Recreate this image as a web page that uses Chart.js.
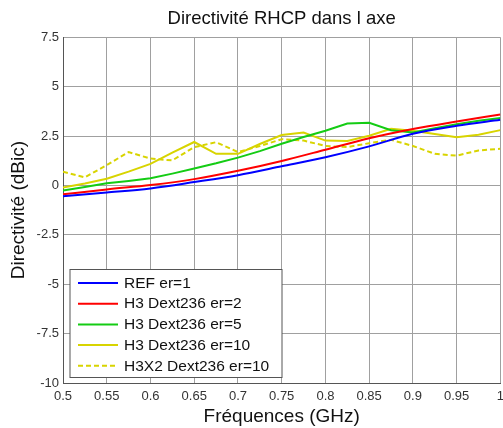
<!DOCTYPE html>
<html>
<head>
<meta charset="utf-8">
<script src="https://cdn.jsdelivr.net/npm/chart.js@4/dist/chart.umd.min.js"></script>
<style>
  html, body { margin: 0; padding: 0; background: #fff; overflow: hidden; }
  #wrap { width: 510px; height: 428px; }
</style>
</head>
<body>
<div id="wrap"><canvas id="graf" width="510" height="428"></canvas></div>
<script>
// Fréquences (GHz)
const freqGros = [0.5, 0.55, 0.6, 0.65, 0.7, 0.75, 0.8, 0.85, 0.9, 0.95, 1.0];
const freqFin = [0.5, 0.525, 0.55, 0.575, 0.6, 0.625, 0.65, 0.675, 0.7, 0.725, 0.75,
                 0.775, 0.8, 0.825, 0.85, 0.875, 0.9, 0.925, 0.95, 0.975, 1.0];

// Directivité (dBic)
const refEr1 = [-0.55, -0.36, -0.15, 0.17, 0.52, 0.97, 1.43, 1.98, 2.62, 3.02, 3.33];
const h3Er2 = [-0.45, -0.2, 0.02, 0.32, 0.74, 1.24, 1.81, 2.39, 2.86, 3.24, 3.59];
const h3Er5 = [-0.26, -0.08, 0.11, 0.23, 0.36, 0.6, 0.86, 1.12, 1.41, 1.74, 2.11,
               2.45, 2.77, 3.14, 3.17, 2.8, 2.68, 2.9, 3.1, 3.27, 3.41];
const h3Er10 = [-0.1, 0.1, 0.34, 0.7, 1.09, 1.66, 2.2, 1.6, 1.6, 2.1, 2.55,
                2.68, 2.27, 2.25, 2.52, 2.87, 2.77, 2.6, 2.44, 2.57, 2.8];
const h3x2Er10 = [0.69, 0.41, 1.03, 1.69, 1.36, 1.27, 1.94, 2.19, 1.69, 2.0, 2.34,
                  2.27, 2.0, 1.94, 2.14, 2.31, 2.0, 1.6, 1.51, 1.77, 1.86];

const yTicks = [-10, -7.5, -5, -2.5, 0, 2.5, 5, 7.5];

const police = "'Liberation Sans', Arial, sans-serif";

function points(xs, ys) {
    return xs.map((x, i) => ({ x: x, y: ys[i] }));
}

// Légende dessinée dans la zone du graphe
const legendeInterne = {
    id: 'legendeInterne',
    afterDraw(chart) {
        const c = chart.ctx;
        const a = chart.chartArea;
        const x0 = a.left + 7, y0 = a.bottom - 113.5;
        const w = 212, h = 108;
        c.save();
        c.fillStyle = '#fff';
        c.fillRect(x0, y0, w, h);
        c.strokeStyle = '#555';
        c.lineWidth = 1;
        c.strokeRect(x0, y0, w, h);
        c.font = '15.5px ' + police;
        c.textBaseline = 'middle';
        chart.data.datasets.forEach((ds, i) => {
            const y = y0 + 13.5 + i * 20.7;
            c.strokeStyle = ds.borderColor;
            c.lineWidth = 2;
            c.setLineDash(ds.borderDash || []);
            c.beginPath();
            c.moveTo(x0 + 8, y);
            c.lineTo(x0 + 48, y);
            c.stroke();
            c.setLineDash([]);
            c.fillStyle = '#111';
            c.fillText(ds.label, x0 + 54, y + 0.5);
        });
        c.restore();
    }
};

const ctx = document.getElementById('graf').getContext('2d');
const grafique = new Chart(ctx, {
    type: 'line',
    data: {
        datasets: [
            { label: 'REF er=1', data: points(freqGros, refEr1), borderColor: '#0000ff', cubicInterpolationMode: 'monotone' },
            { label: 'H3 Dext236 er=2', data: points(freqGros, h3Er2), borderColor: '#ff0000', cubicInterpolationMode: 'monotone' },
            { label: 'H3 Dext236 er=5', data: points(freqFin, h3Er5), borderColor: '#14cc14' },
            { label: 'H3 Dext236 er=10', data: points(freqFin, h3Er10), borderColor: '#d8d400' },
            { label: 'H3X2 Dext236 er=10', data: points(freqFin, h3x2Er10), borderColor: '#d8d400', borderDash: [5, 3] }
        ]
    },
    options: {
        responsive: false,
        animation: false,
        layout: { autoPadding: false, padding: { left: 0, right: 7, top: 0, bottom: 0 } },
        elements: {
            point: { radius: 0 },
            line: { borderWidth: 2, tension: 0, fill: false }
        },
        scales: {
            x: {
                type: 'linear',
                min: 0.5, max: 1,
                border: { color: '#555' },
                grid: { color: '#a0a0a0', tickLength: 0 },
                ticks: {
                    stepSize: 0.05,
                    color: '#333',
                    padding: 6,
                    font: { family: police, size: 13 },
                    maxRotation: 0,
                    callback: v => String(+v.toFixed(2))
                },
                title: {
                    display: true,
                    text: 'Fréquences (GHz)',
                    color: '#111',
                    font: { family: police, size: 19 },
                    padding: { top: 0, bottom: 0 }
                },
                afterFit(s) { s.height = 45; }
            },
            y: {
                min: -10, max: 7.5,
                border: { color: '#555' },
                grid: { color: '#a0a0a0', tickLength: 0 },
                afterBuildTicks(s) { s.ticks = yTicks.map(v => ({ value: v })); },
                ticks: {
                    color: '#333',
                    padding: 4,
                    font: { family: police, size: 13 },
                    callback: v => String(v)
                },
                title: {
                    display: true,
                    text: 'Directivité (dBic)',
                    color: '#111',
                    font: { family: police, size: 19 },
                    padding: { top: 7, bottom: 0 }
                },
                afterFit(s) { s.width = 63; }
            }
        },
        plugins: {
            legend: { display: false },
            tooltip: { enabled: false },
            title: {
                display: true,
                fullSize: false,
                text: 'Directivité RHCP dans l axe',
                color: '#111',
                font: { family: police, size: 18.5, weight: 'normal' },
                padding: { top: 7.6, bottom: 7.5 }
            }
        }
    },
    plugins: [legendeInterne]
});
</script>
</body>
</html>
